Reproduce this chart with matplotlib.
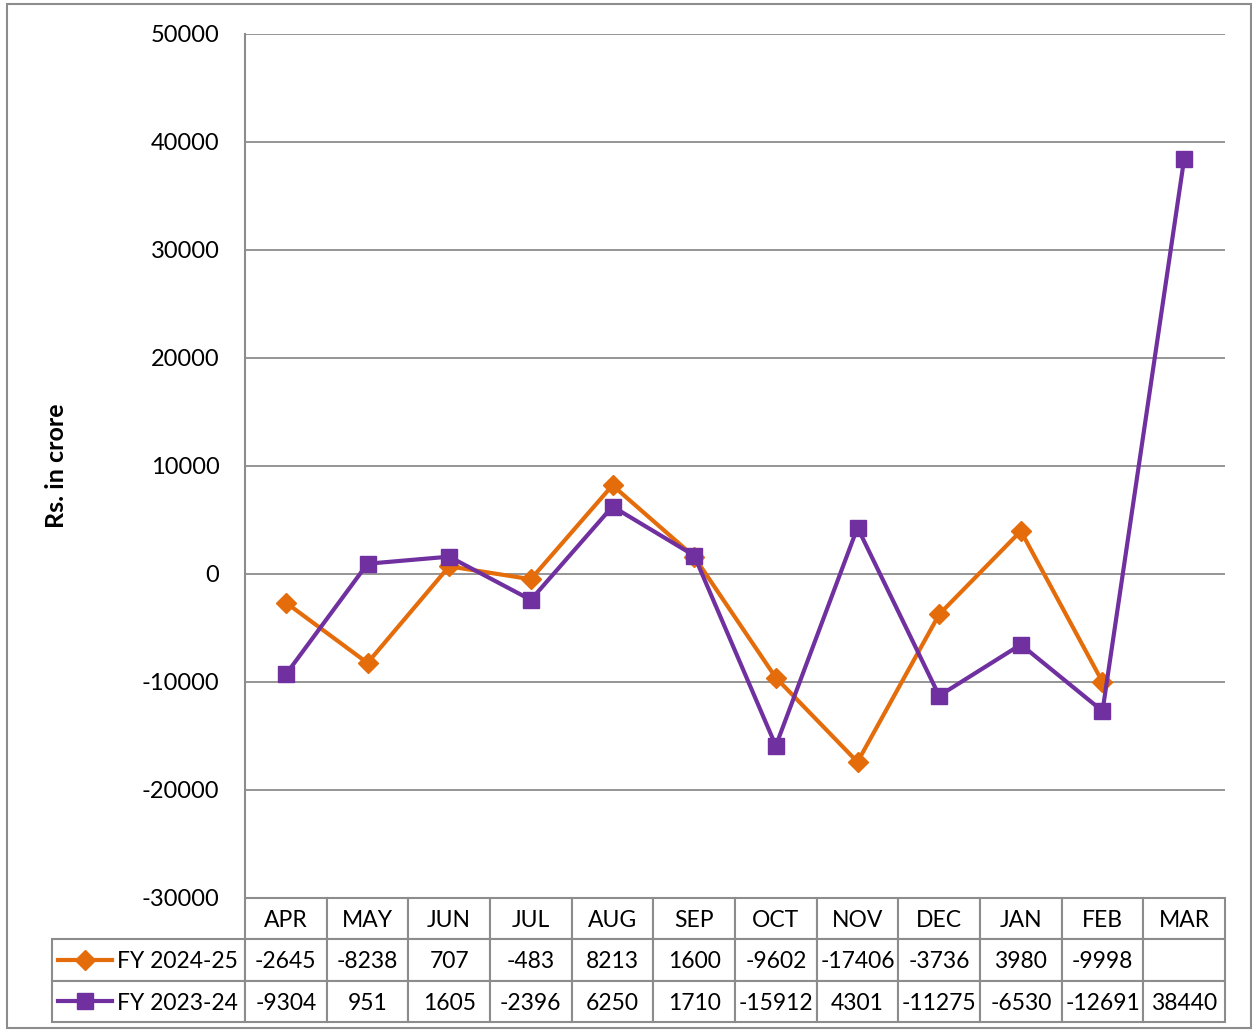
import matplotlib.pyplot as plt
from matplotlib.lines import Line2D
from matplotlib.patches import Rectangle

months = ['APR', 'MAY', 'JUN', 'JUL', 'AUG', 'SEP', 'OCT', 'NOV', 'DEC', 'JAN', 'FEB', 'MAR']
fy_2425 = [-2645, -8238, 707, -483, 8213, 1600, -9602, -17406, -3736, 3980, -9998, None]
fy_2324 = [-9304, 951, 1605, -2396, 6250, 1710, -15912, 4301, -11275, -6530, -12691, 38440]
series_names = ['FY 2024-25', 'FY 2023-24']
y_ticks = [-30000, -20000, -10000, 0, 10000, 20000, 30000, 40000, 50000]

orange = '#E46C0A'
purple = '#7030A0'
grey = '#8C8C8C'

plt.rcParams['font.family'] = ['Lato', 'DejaVu Sans']

W, H = 1252, 1032
fig = plt.figure(figsize=(W / 100, H / 100), dpi=100)
fig.patches.append(Rectangle((7 / W, 4 / H), (W - 8) / W, (H - 8) / H, transform=fig.transFigure,
                             fill=False, edgecolor=grey, linewidth=1.5))

x0, x1, y_top, y_bot = 245, 1225, 34, 898
ax = fig.add_axes([x0 / W, (H - y_bot) / H, (x1 - x0) / W, (y_bot - y_top) / H])
ax_w, ax_h = x1 - x0, y_bot - y_top

xs = list(range(len(months)))
x_a = [x for x, v in zip(xs, fy_2425) if v is not None]
v_a = [v for v in fy_2425 if v is not None]
ax.plot(x_a, v_a, color=orange, lw=3, marker='D', ms=10, zorder=3)
ax.plot(xs, fy_2324, color=purple, lw=3, marker='s', ms=12, zorder=4)

ax.set_xlim(-0.5, len(months) - 0.5)
ax.set_ylim(-30000, 50000)
ax.set_yticks(y_ticks)
ax.set_yticklabels([str(t) for t in y_ticks], fontsize=17)
ax.set_xticks([])
ax.yaxis.grid(True, color=grey, lw=1.3)
ax.set_axisbelow(True)
for s in ['top', 'right', 'bottom']:
    ax.spines[s].set_visible(False)
ax.spines['left'].set_color(grey)
ax.spines['left'].set_linewidth(1.5)
ax.tick_params(axis='y', length=0, pad=18.5)
ax.set_ylabel('Rs. in crore', fontsize=18, fontweight='bold')
ax.yaxis.set_label_coords((68 - x0) / ax_w, 0.5)

# data table under the plot
left_px, bottom_px = 52, 1022
lab_w = x0 - left_px
col_w = ax_w / len(months)
cell_text = [[''] + [('' if v is None else str(v)) for v in fy_2425],
             [''] + [str(v) for v in fy_2324]]
tbl = ax.table(cellText=cell_text, colLabels=[''] + months,
               colWidths=[lab_w] + [col_w] * len(months),
               cellLoc='center',
               bbox=[(left_px - x0) / ax_w, -(bottom_px - y_bot) / ax_h,
                     (x1 - left_px) / ax_w, (bottom_px - y_bot) / ax_h])
tbl.auto_set_font_size(False)
tbl.set_fontsize(16.5)
for (r, c), cell in tbl.get_celld().items():
    cell.set_edgecolor(grey)
    cell.set_linewidth(1.5)
    if r == 0 and c == 0:
        cell.visible_edges = ''
    cell.get_text().set_va('center_baseline')

row_h = (bottom_px - y_bot) / 3
for i, (name, col, mk, ms) in enumerate(zip(series_names, [orange, purple], ['D', 's'], [10, 12])):
    yc = -(row_h * (i + 1.5)) / ax_h
    xl = [(58 - x0) / ax_w, (112 - x0) / ax_w]
    ax.add_line(Line2D(xl, [yc, yc], color=col, lw=3, transform=ax.transAxes, clip_on=False))
    ax.add_line(Line2D([sum(xl) / 2], [yc], color=col, marker=mk, ms=ms,
                       transform=ax.transAxes, clip_on=False))
    ax.text((117 - x0) / ax_w, yc, name, transform=ax.transAxes, fontsize=16.5,
            ha='left', va='center_baseline')

fig.savefig('out.png', dpi=100)
